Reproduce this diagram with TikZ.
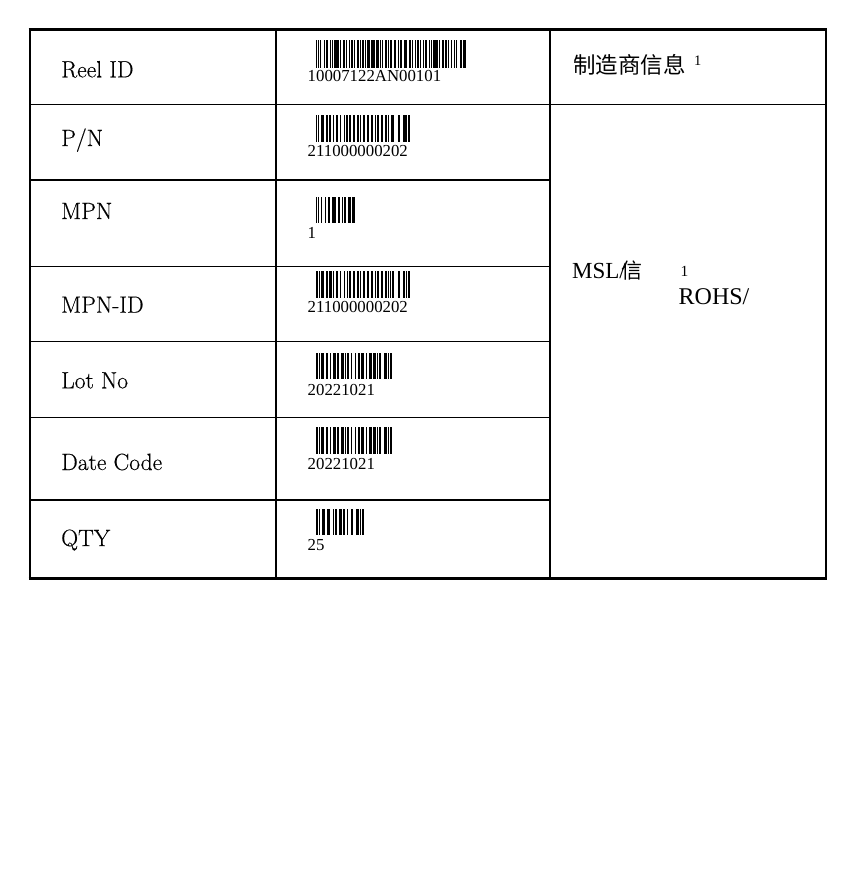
\documentclass[tikz,border=0pt]{standalone}
\usepackage{fontspec}
\newfontfamily\timesf{Liberation Serif}
\newfontfamily\labf[FakeBold=0.35]{Latin Modern Roman}
\newfontfamily\cjk{Noto Sans CJK SC}
\newcount\bcpos \newcount\bcflag
\def\bcx{0}\def\bcy{0}\def\bcm{1}\def\bch{1}
\def\bcstep#1{\ifx#1\relax\else
  \ifodd\bcflag\relax
    \fill (\bcx+\the\bcpos*\bcm, \bcy) rectangle ++(#1*\bcm, \bch);
  \fi
  \advance\bcpos by #1\relax
  \advance\bcflag by 1\relax
  \expandafter\bcstep\fi}
\newcommand\barcode[5]{\def\bcx{#1}\def\bcy{#2}\def\bcm{#3}\def\bch{#4}%
  \bcpos=0 \bcflag=1 \bcstep#5\relax}
\tikzset{
  lab/.style={anchor=base west, inner sep=0pt, font=\labf\fontsize{23.5}{28}\selectfont},
  num/.style={anchor=base west, inner sep=0pt, font=\timesf\fontsize{16.8}{20}\selectfont},
  inner/.style={line width=1.6pt},
  outer/.style={line width=2.2pt}
}
\begin{document}
\begin{tikzpicture}[x=1pt,y=-1pt]
\useasboundingbox (0,0) rectangle (854,875);
% grid
\draw[inner] (29.8,104.3) -- (825.7,104.3);
\foreach \yy in {180,266.5,341.5,417.3,500}{\draw[inner] (29.8,\yy) -- (549.7,\yy);}
\draw[outer] (29.8,29.7) -- (29.8,578.5);
\draw[outer] (276.2,29.7) -- (276.2,578.5);
\draw[outer] (549.7,29.7) -- (549.7,578.5);
\draw[outer] (825.7,29.7) -- (825.7,578.5);
\draw[line width=2.7pt] (28.7,29.7) -- (826.8,29.7);
\draw[line width=3pt] (28.7,578.5) -- (826.8,578.5);
% labels
\node[lab] (l1) at (61,77.3) {Reel ID};
\node[lab] (l2) at (61,146) {P/N};
\node[lab] (l3) at (61,219) {MPN};
\node[lab] (l4) at (61,312.7) {MPN-ID};
\node[lab] (l5) at (61,388.3) {Lot No};
\node[lab] (l6) at (61,470) {Date Code};
\node[lab] (l7) at (61,546) {QTY};
% barcodes
\barcode{315.5}{40}{0.751}{27.7}{211214 123221 123122 123122 123122 312131 123221 223211 223211 111323 113321 123122 123122 123221 123122 123221 222221 2331112}
\barcode{315.5}{115}{0.9376}{27.3}{211232 213212 221312 212222 212222 222221 222221 121124 2331112}
\barcode{315.7}{196.7}{0.8543}{26.6}{211214 123221 223211 2331112}
\barcode{315.7}{271}{0.934}{27.3}{211232 213212 221312 212222 212222 222221 222221 121124 2331112}
\barcode{315.7}{352.7}{0.962}{26.6}{211232 221231 223112 221312 213212 413111 2331112}
\barcode{315.7}{427.3}{0.962}{27}{211232 221231 223112 221312 213212 413111 2331112}
\barcode{315.7}{509.3}{1.0565}{25.7}{211232 321122 312212 2331112}
\node[num] (n1) at (307.5,81.7) {10007122AN00101};
\node[num] (n2) at (307.5,156) {211000000202};
\node[num] (n3) at (307.5,238) {1};
\node[num] (n4) at (307.5,312.7) {211000000202};
\node[num] (n5) at (307.5,395) {20221021};
\node[num] (n6) at (307.5,469.3) {20221021};
\node[num] (n7) at (307.5,550) {25};
% right column
\node[anchor=base west, inner sep=0pt, font=\cjk\fontsize{22.5}{26}\selectfont] (mfr) at (573,73.4) {制造商信息};
\node[anchor=base west, inner sep=0pt, font=\timesf\fontsize{14.5}{17}\selectfont] (s1) at (694,65.7) {1};
\node[anchor=base west, inner sep=0pt, font=\timesf\fontsize{23}{27}\selectfont] (msl) at (572,278.3) {MSL/\kern-4pt{\cjk\fontsize{21}{25}\selectfont 信}};
\node[anchor=base west, inner sep=0pt, font=\timesf\fontsize{15.5}{18}\selectfont] (s2) at (680.5,276.7) {1};
\node[anchor=base west, inner sep=0pt, font=\timesf\fontsize{24}{28}\selectfont] (rohs) at (678.5,304.3) {ROHS/};
\end{tikzpicture}
\end{document}
